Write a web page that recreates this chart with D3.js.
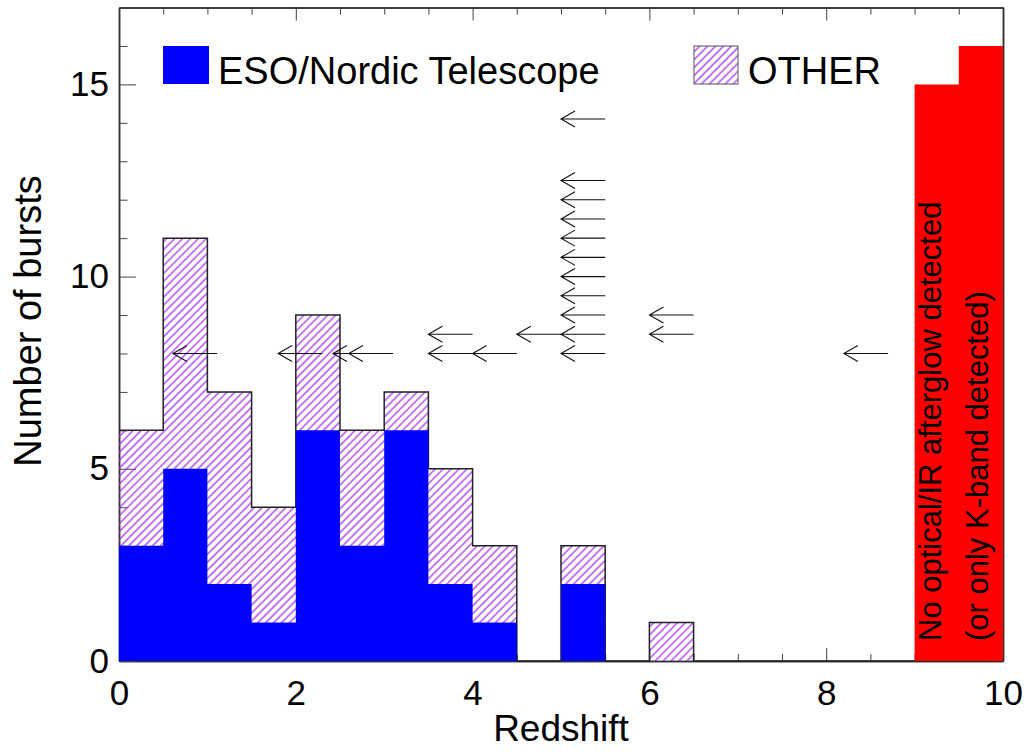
<!DOCTYPE html>
<html>
<head>
<meta charset="utf-8">
<script src="https://cdn.jsdelivr.net/npm/d3@7"></script>
<style>
  body { margin: 0; background: #fff; }
  svg { display: block; }
  text { font-family: 'Liberation Sans', Arial, Helvetica, sans-serif; fill: #000; }
</style>
</head>
<body>
<svg id="chart" width="1030" height="752"></svg>
<script>
// histogram bins (redshift, width 0.5)
var binStart = [0, 0.5, 1, 1.5, 2, 2.5, 3, 3.5, 4, 4.5, 5, 5.5, 6, 6.5, 7, 7.5, 8, 8.5, 9, 9.5]
var allCounts = [6, 11, 7, 4, 9, 6, 7, 5, 3, 0, 3, 0, 1, 0, 0, 0, 0, 0, 0, 0]
var esoCounts = [3, 5, 2, 1, 6, 3, 6, 2, 1, 0, 2, 0, 0, 0, 0, 0, 0, 0, 0, 0]
var noAfterglowCounts = [0, 0, 0, 0, 0, 0, 0, 0, 0, 0, 0, 0, 0, 0, 0, 0, 0, 0, 15, 16]

// upper limits on redshift (arrow tail) and the height they are plotted at
var limitZ = [1.11, 2.30, 2.92, 3.10, 4.0, 4.0, 4.5, 5.0,
  5.5, 5.5, 5.5, 5.5, 5.5, 5.5, 5.5, 5.5, 5.5, 5.5, 5.5, 6.5, 6.5, 8.7]
var limitN = [8, 8, 8, 8, 8, 8.5, 8, 8.5,
  8, 8.5, 9, 9.5, 10, 10.5, 11, 11.5, 12, 12.5, 14.1, 8.5, 9, 8]

var xTicks = [0, 2, 4, 6, 8, 10]
var yTicks = [0, 5, 10, 15]

var svg = d3.select('#chart')
var mLeft = 119, mRight = 1003, mTop = 7.5, mBottom = 661
var binWidth = 0.5, arrowLen = 0.5

var x = d3.scaleLinear().domain([0, 10]).range([mLeft, mRight])
var y = d3.scaleLinear().domain([0, 17]).range([mBottom, mTop])

var xMinor = d3.range(0, 10.01, 0.5).filter(function(d) { return d % 2 !== 0 })
var yMinor = d3.range(0, 17.01, 1).filter(function(d) { return d % 5 !== 0 })

// hatch pattern
var defs = svg.append('defs')
defs.append('pattern')
  .attr('id', 'hatch')
  .attr('patternUnits', 'userSpaceOnUse')
  .attr('width', 5.6)
  .attr('height', 10)
  .attr('patternTransform', 'rotate(45)')
  .append('line')
  .attr('x1', 1).attr('y1', 0).attr('x2', 1).attr('y2', 10)
  .attr('stroke', '#a020f0')
  .attr('stroke-width', 1.2)

// axes (drawn first, bars cover them like in the original)
function styleAxis(g) {
  g.select('.domain').attr('stroke', '#333').attr('stroke-width', 1.5)
  g.selectAll('.tick line').attr('stroke', '#444').attr('stroke-width', 1)
  g.selectAll('.tick text').style('font-size', '35px').attr('fill', '#000')
}

svg.append('g')
  .attr('transform', 'translate(0,' + mBottom + ')')
  .call(d3.axisBottom(x).tickValues(xTicks).tickSize(-13).tickSizeOuter(0).tickPadding(19))
  .call(styleAxis)
svg.append('g')
  .attr('transform', 'translate(0,' + mBottom + ')')
  .call(d3.axisBottom(x).tickValues(xMinor).tickSize(-7).tickSizeOuter(0).tickFormat(''))
  .call(styleAxis)
svg.append('g')
  .attr('transform', 'translate(0,' + mTop + ')')
  .call(d3.axisTop(x).tickValues(xTicks).tickSize(-13).tickSizeOuter(0).tickFormat(''))
  .call(styleAxis)
svg.append('g')
  .attr('transform', 'translate(0,' + mTop + ')')
  .call(d3.axisTop(x).tickValues(xMinor).tickSize(-7).tickSizeOuter(0).tickFormat(''))
  .call(styleAxis)
svg.append('g')
  .attr('transform', 'translate(' + mLeft + ',0)')
  .call(d3.axisLeft(y).tickValues(yTicks).tickSize(-17).tickSizeOuter(0).tickPadding(10))
  .call(styleAxis)
svg.append('g')
  .attr('transform', 'translate(' + mLeft + ',0)')
  .call(d3.axisLeft(y).tickValues(yMinor).tickSize(-8.5).tickSizeOuter(0).tickFormat(''))
  .call(styleAxis)
svg.append('g')
  .attr('transform', 'translate(' + mRight + ',0)')
  .call(d3.axisRight(y).tickValues(yTicks).tickSize(-17).tickSizeOuter(0).tickFormat(''))
  .call(styleAxis)
svg.append('g')
  .attr('transform', 'translate(' + mRight + ',0)')
  .call(d3.axisRight(y).tickValues(yMinor).tickSize(-8.5).tickSizeOuter(0).tickFormat(''))
  .call(styleAxis)

// step histogram helpers
function steps(counts) {
  var pts = binStart.map(function(b, i) { return [b, counts[i]] })
  pts.push([binStart[binStart.length - 1] + binWidth, counts[counts.length - 1]])
  return pts
}
var area = d3.area()
  .curve(d3.curveStepAfter)
  .x(function(d) { return x(d[0]) })
  .y0(y(0))
  .y1(function(d) { return y(d[1]) })
var line = d3.line()
  .curve(d3.curveStepAfter)
  .x(function(d) { return x(d[0]) })
  .y(function(d) { return y(d[1]) })

// all bursts: hatched
svg.append('path')
  .datum(steps(allCounts))
  .attr('d', area)
  .attr('fill', 'url(#hatch)')
svg.append('path')
  .datum(steps(allCounts))
  .attr('d', line)
  .attr('fill', 'none')
  .attr('stroke', '#222')
  .attr('stroke-width', 1.5)

// ESO/Nordic: solid blue
svg.append('path')
  .datum(steps(esoCounts))
  .attr('d', area)
  .attr('fill', '#0000ff')

// no afterglow: red
svg.append('path')
  .datum(steps(noAfterglowCounts))
  .attr('d', area)
  .attr('fill', '#ff0000')

// upper limit arrows
var arrows = svg.append('g')
  .attr('stroke', '#111')
  .attr('stroke-width', 1.1)
  .attr('fill', 'none')
limitZ.forEach(function(z, i) {
  var x1 = x(z), x0 = x(z - arrowLen), yy = y(limitN[i])
  arrows.append('path')
    .attr('d', 'M' + x1 + ',' + yy + 'H' + x0 +
      'M' + (x0 + 14) + ',' + (yy - 8) + 'L' + x0 + ',' + yy + 'L' + (x0 + 14) + ',' + (yy + 8))
})

// legend
svg.append('rect')
  .attr('x', 163).attr('y', 46).attr('width', 46).attr('height', 38)
  .attr('fill', '#0000ff')
svg.append('text')
  .attr('x', 218).attr('y', 84)
  .style('font-size', '38px')
  .text('ESO/Nordic Telescope')
svg.append('rect')
  .attr('x', 694).attr('y', 46).attr('width', 44).attr('height', 38)
  .attr('fill', 'url(#hatch)')
  .attr('stroke', '#555').attr('stroke-width', 1)
svg.append('text')
  .attr('x', 748).attr('y', 84)
  .style('font-size', '38px')
  .text('OTHER')

// label in the red bins
var redLabel = svg.append('text')
  .attr('transform', 'translate(941,641) rotate(-90)')
  .style('font-size', '31px')
redLabel.append('tspan').attr('x', 0).attr('y', 0).text('No optical/IR afterglow detected')
redLabel.append('tspan').attr('x', 0).attr('y', 47).text('(or only K-band detected)')

// axis titles
svg.append('text')
  .attr('x', (mLeft + mRight) / 2).attr('y', 741)
  .attr('text-anchor', 'middle')
  .style('font-size', '37px')
  .text('Redshift')
svg.append('text')
  .attr('transform', 'translate(41,' + 321 + ') rotate(-90)')
  .attr('text-anchor', 'middle')
  .style('font-size', '38px')
  .text('Number of bursts')
</script>
</body>
</html>
